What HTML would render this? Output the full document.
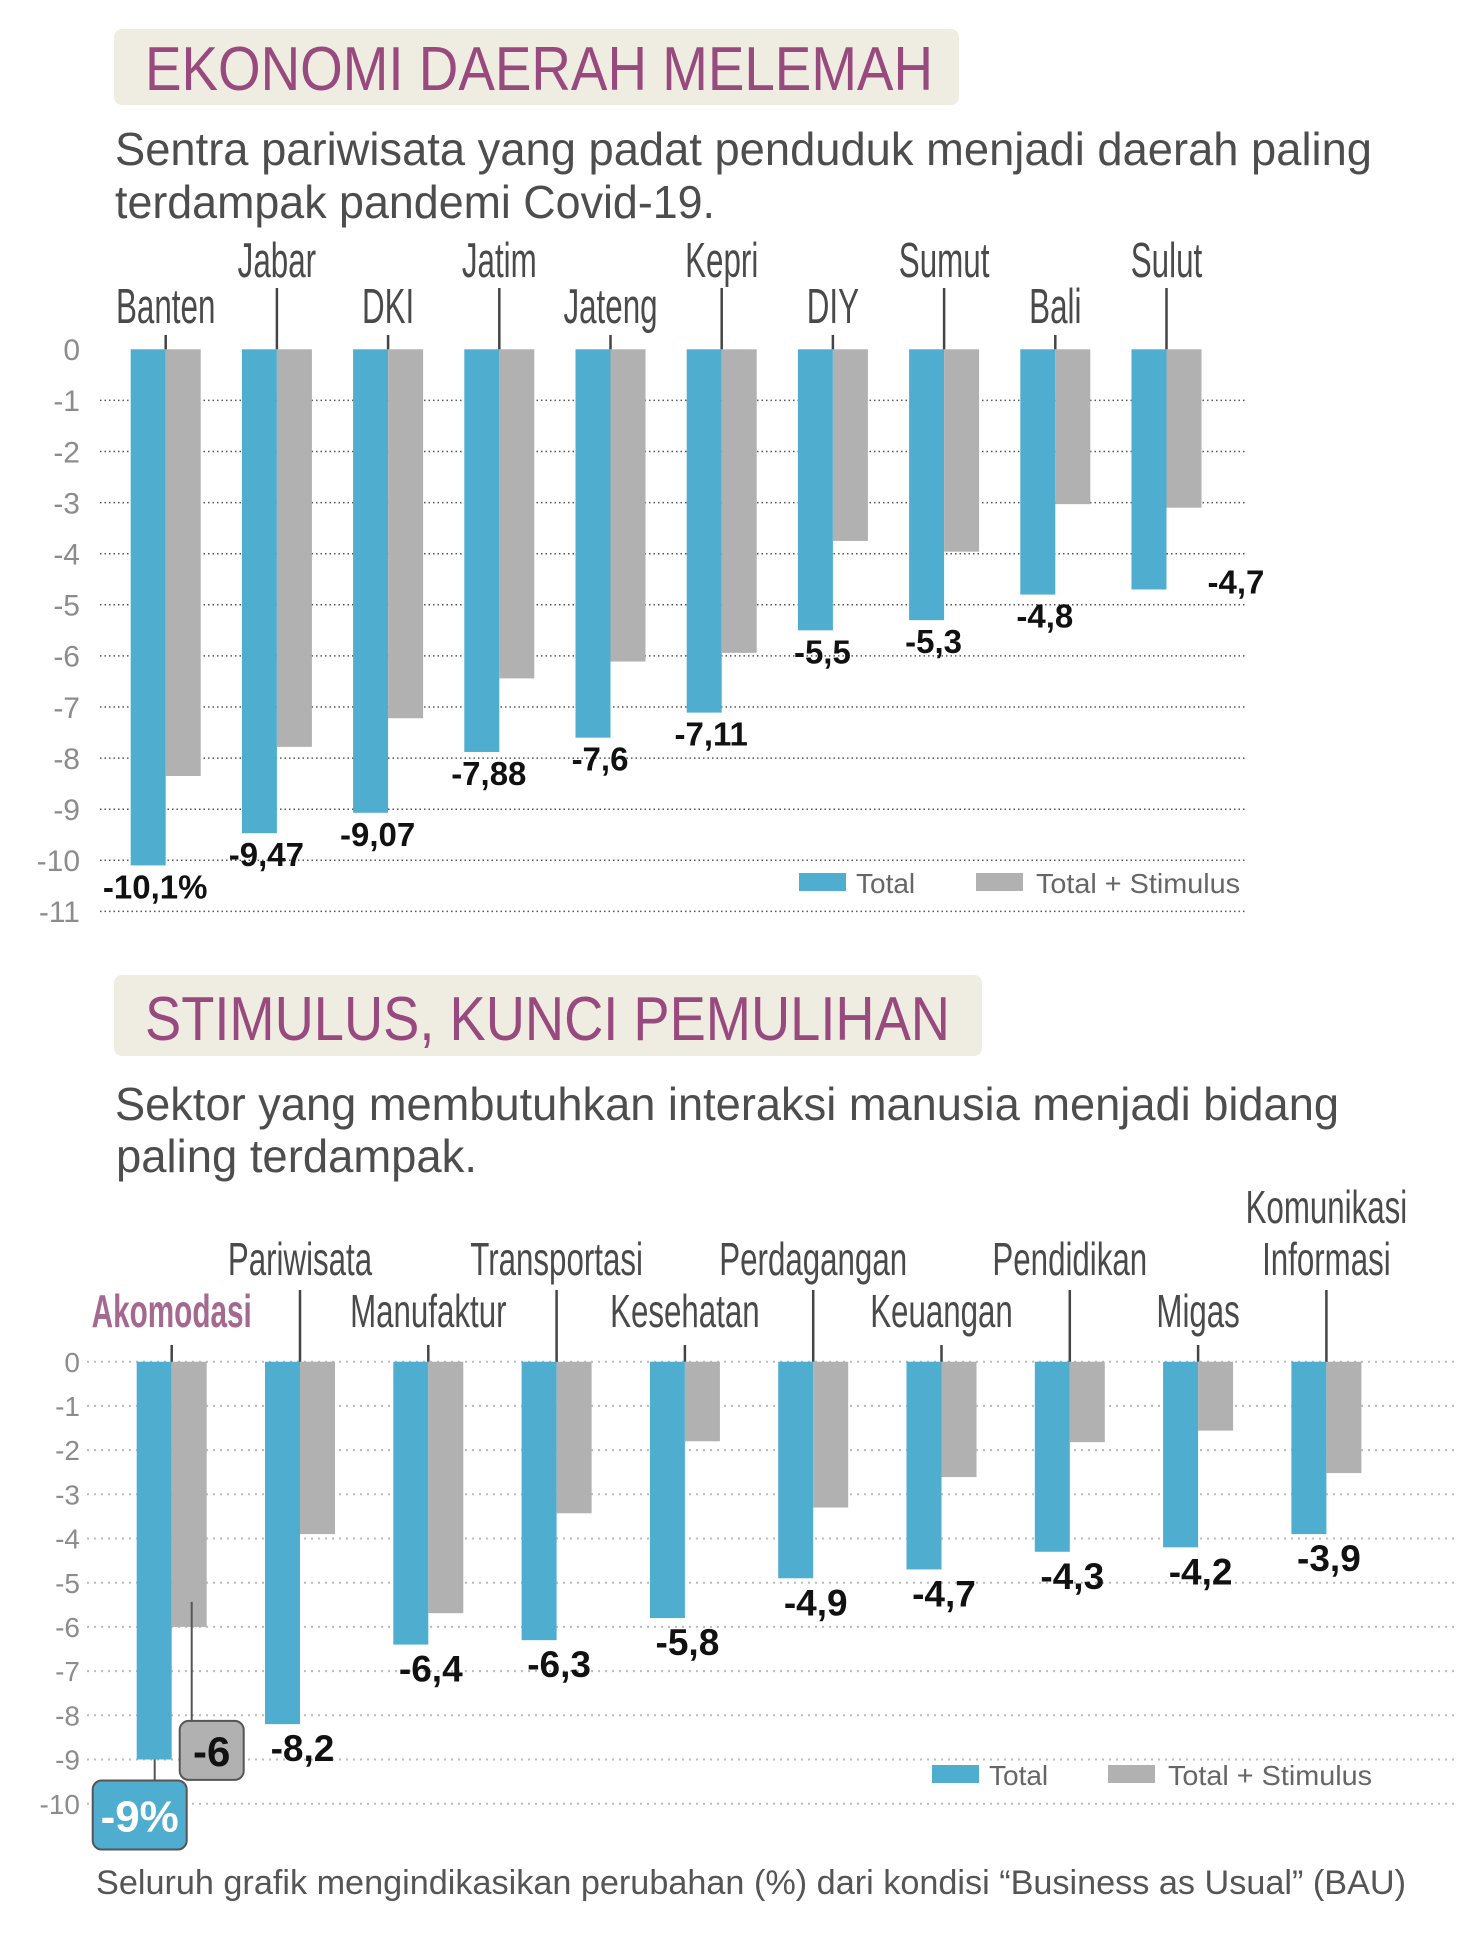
<!DOCTYPE html>
<html><head><meta charset="utf-8"><style>
html,body{margin:0;padding:0;background:#fff;}
svg{display:block;font-family:"Liberation Sans",sans-serif;}
</style></head><body>
<svg id="page" xmlns="http://www.w3.org/2000/svg" width="1458" height="1944" viewBox="0 0 1458 1944">
  <rect x="114" y="29" width="845" height="76" rx="8" fill="#efede2"/>
  <text x="145" y="90" font-size="62" fill="#984a7e" textLength="788" lengthAdjust="spacingAndGlyphs">EKONOMI DAERAH MELEMAH</text>
  <text x="115" y="165" font-size="46" fill="#4d4d4d" textLength="1257" lengthAdjust="spacingAndGlyphs">Sentra pariwisata yang padat penduduk menjadi daerah paling</text>
  <text x="115" y="218" font-size="46" fill="#4d4d4d" textLength="600" lengthAdjust="spacingAndGlyphs">terdampak pandemi Covid-19.</text>

  <rect x="114" y="975" width="868" height="81" rx="8" fill="#efede2"/>
  <text x="145" y="1040" font-size="62" fill="#984a7e" textLength="805" lengthAdjust="spacingAndGlyphs">STIMULUS, KUNCI PEMULIHAN</text>
  <text x="115" y="1120" font-size="46" fill="#4d4d4d" textLength="1224" lengthAdjust="spacingAndGlyphs">Sektor yang membutuhkan interaksi manusia menjadi bidang</text>
  <text x="116" y="1172" font-size="46" fill="#4d4d4d" textLength="361" lengthAdjust="spacingAndGlyphs">paling terdampak.</text>

  <g id="chartTop"></g>
  <g id="chartBot"></g>

  <text x="96" y="1894" font-size="34" fill="#555" textLength="1310" lengthAdjust="spacingAndGlyphs">Seluruh grafik mengindikasikan perubahan (%) dari kondisi “Business as Usual” (BAU)</text>
</svg>
<script>
const topCategories = ['Banten','Jabar','DKI','Jatim','Jateng','Kepri','DIY','Sumut','Bali','Sulut'];
const topTotal = [-10.1,-9.47,-9.07,-7.88,-7.6,-7.11,-5.5,-5.3,-4.8,-4.7];
const topStimulus = [-8.35,-7.78,-7.22,-6.44,-6.11,-5.94,-3.75,-3.96,-3.03,-3.1];
const topValueLabels = ['-10,1%','-9,47','-9,07','-7,88','-7,6','-7,11','-5,5','-5,3','-4,8','-4,7'];
const topTicks = [0,-1,-2,-3,-4,-5,-6,-7,-8,-9,-10,-11];

const botCategories = ['Akomodasi','Pariwisata','Manufaktur','Transportasi','Kesehatan','Perdagangan','Keuangan','Pendidikan','Migas','Komunikasi|Informasi'];
const botTotal = [-9,-8.2,-6.4,-6.3,-5.8,-4.9,-4.7,-4.3,-4.2,-3.9];
const botStimulus = [-6,-3.9,-5.69,-3.43,-1.8,-3.3,-2.61,-1.82,-1.56,-2.52];
const botValueLabels = ['-9%','-8,2','-6,4','-6,3','-5,8','-4,9','-4,7','-4,3','-4,2','-3,9'];
const botStimLabel = '-6';
const botTicks = [0,-1,-2,-3,-4,-5,-6,-7,-8,-9,-10];

const NS='http://www.w3.org/2000/svg';
function mk(parent, tag, attrs, txt){
  const e=document.createElementNS(NS,tag);
  for(const k in attrs) e.setAttribute(k,attrs[k]);
  if(txt!==undefined) e.textContent=txt;
  parent.appendChild(e); return e;
}
const BLUE='#4fadd0', GRAY='#b1b1b1';

function drawChart(g, cfg){
  const y = v => cfg.y0 + (-v)*cfg.unit;
  const x = i => cfg.x0 + i*cfg.step;
  // gridlines + tick labels
  cfg.ticks.forEach(t=>{
    if(t!==0 || cfg.zeroLine){
      const l=mk(g,'line',{x1:cfg.gx1,x2:cfg.gx2,y1:y(t),y2:y(t),stroke:cfg.gridColor,'stroke-width':cfg.gridW,'stroke-dasharray':cfg.dash});
      
      
    }
    const tl=mk(g,'text',{x:80,y:y(t)+cfg.tickFs*0.36,'font-size':cfg.tickFs,fill:'#8c8c8c','text-anchor':'end'},String(t));
    
    
  });
  cfg.cats.forEach((c,i)=>{
    const bx=x(i), bw=35;
    const b1=mk(g,'rect',{x:bx,y:y(0),width:bw,height:y(cfg.total[i])-y(0),fill:BLUE});
    
    
    const b2=mk(g,'rect',{x:bx+bw,y:y(0),width:bw,height:y(cfg.stim[i])-y(0),fill:GRAY});
    
    
    const upper = i%2===1;
    const cx = bx+bw;
    const tk=mk(g,'line',{x1:cx,x2:cx,y1:upper?cfg.tickTopUpper:cfg.tickTopLower,y2:y(0),stroke:'#444','stroke-width':2.5});
    
    
    const lines=c.split('|');
    lines.forEach((ln,k)=>{
      let base = upper?cfg.baseUpper:cfg.baseLower;
      if(lines.length>1) base = cfg.baseUpper - (lines.length-1-k)*cfg.lineGap;
      const special = cfg.highlightFirst && i===0;
      const t=mk(g,'text',{x:0,y:0,'font-size':cfg.catFs,fill:special?'#a5688f':'#4a4a4a','font-weight':special?'bold':'normal','text-anchor':'middle',transform:`translate(${cx},${base}) scale(${special?cfg.catScale*0.95:cfg.catScale},1)`},ln);
      
      
    });
    if(cfg.highlightFirst && i===0) return;
    let lx = bx+bw/2+cfg.labelDx, ly = y(cfg.total[i])+cfg.labelDy, anchor='middle';
    if(cfg.sideLast && i===cfg.cats.length-1){ lx=bx+bw*2+6; ly=y(cfg.total[i])+4; anchor='start'; }
    const vl=mk(g,'text',{x:lx,y:ly,'font-size':cfg.valFs,'font-weight':'bold',fill:'#111','text-anchor':anchor},cfg.labels[i]);
    
    
  });
  // legend
  const L=cfg.legend;
  const s1=mk(g,'rect',{x:L.x1,y:L.y,width:47,height:18,fill:BLUE});
  
  
  const t1=mk(g,'text',{x:L.x1+57,y:L.y+20,'font-size':28,fill:'#666'},'Total');
  
  
  const s2=mk(g,'rect',{x:L.x2,y:L.y,width:47,height:18,fill:GRAY});
  
  
  const t2=mk(g,'text',{x:L.x2+60,y:L.y+20,'font-size':28,fill:'#666',textLength:204,lengthAdjust:'spacingAndGlyphs'},'Total + Stimulus');
  
  
  return {x,y};
}

drawChart(document.getElementById('chartTop'),{
  cats:topCategories,total:topTotal,stim:topStimulus,labels:topValueLabels,ticks:topTicks,
  y0:349.3,unit:51.1,x0:130.7,step:111.2,gx1:100,gx2:1245,gridColor:'#555',gridW:1.5,dash:'1.5 3',zeroLine:false,
  tickFs:30,catFs:49,catScale:0.64,baseLower:323,baseUpper:277,lineGap:52,tickTopLower:335,tickTopUpper:288,
  valFs:33,labelDx:7,labelDy:33,sideLast:true,legend:{x1:799,x2:976,y:873}
});

const bot = drawChart(document.getElementById('chartBot'),{
  cats:botCategories,total:botTotal,stim:botStimulus,labels:botValueLabels,ticks:botTicks,
  y0:1361.7,unit:44.2,x0:136.7,step:128.3,gx1:87,gx2:1458,gridColor:'#bbb',gridW:2,dash:'2 5',zeroLine:true,
  tickFs:28,catFs:46,catScale:0.68,baseLower:1327,baseUpper:1275,lineGap:52,tickTopLower:1345,tickTopUpper:1290,
  valFs:37,labelDx:20,labelDy:37,sideLast:false,highlightFirst:true,legend:{x1:932,x2:1108,y:1765}
});

// callouts for first sector
(function(){
  const g=document.getElementById('chartBot');
  const bx=bot.x(0);
  const yT=bot.y(botTotal[0]), yS=bot.y(botStimulus[0]);
  const c1=mk(g,'line',{x1:bx+18,x2:bx+18,y1:yT,y2:yT+22,stroke:'#555','stroke-width':2});
  
  
  const r1=mk(g,'rect',{x:bx-44,y:yT+21,width:94,height:69,rx:9,fill:BLUE,stroke:'#555','stroke-width':2});
  
  
  const t1=mk(g,'text',{x:bx+3,y:yT+72,'font-size':44,'font-weight':'bold',fill:'#fff','text-anchor':'middle'},botValueLabels[0]);
  
  
  const c2=mk(g,'line',{x1:bx+55,x2:bx+55,y1:yS-25,y2:yS+94,stroke:'#555','stroke-width':2});
  
  
  const r2=mk(g,'rect',{x:bx+43,y:yS+94,width:64,height:59,rx:9,fill:GRAY,stroke:'#555','stroke-width':2});
  
  
  const t2=mk(g,'text',{x:bx+75,y:yS+139,'font-size':42,'font-weight':'bold',fill:'#111','text-anchor':'middle'},botStimLabel);
  
  
})();
</script>
</body></html>
